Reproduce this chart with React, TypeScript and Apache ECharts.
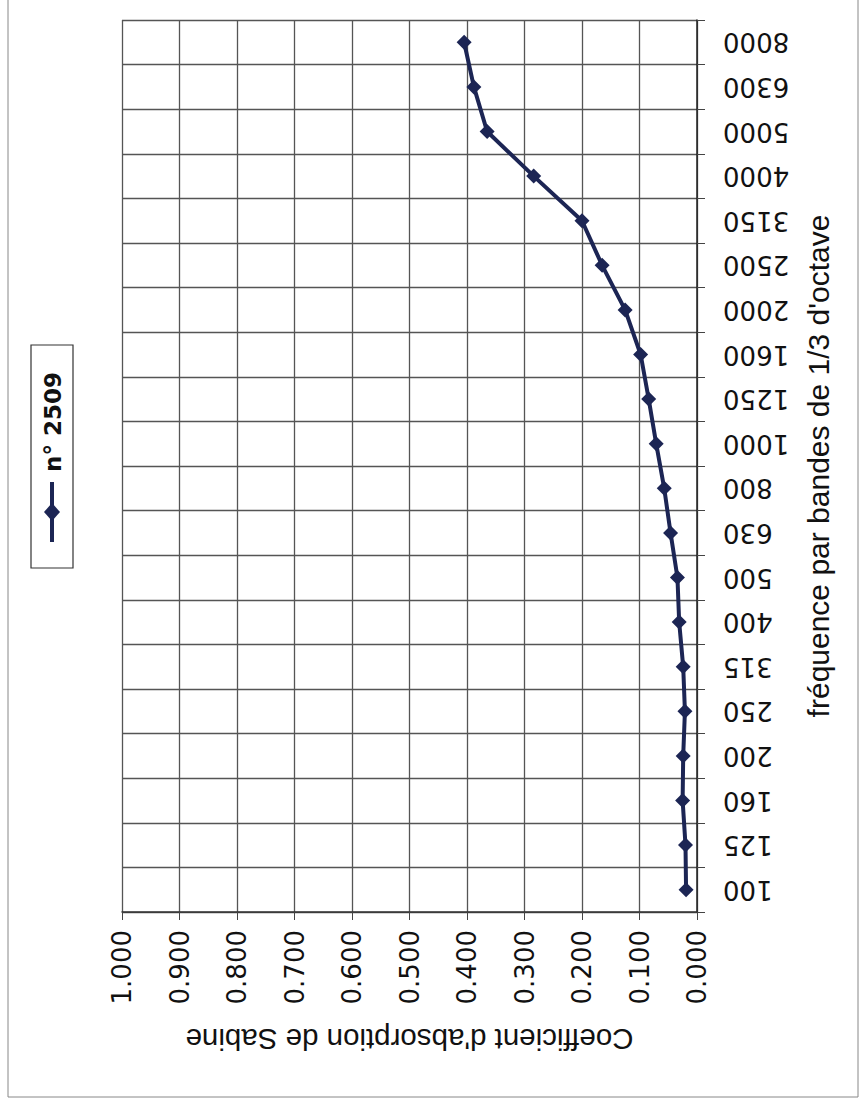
import React, { useEffect, useRef } from "react";
import * as echarts from "echarts";

const categories = ["100", "125", "160", "200", "250", "315", "400", "500", "630", "800", "1000", "1250", "1600", "2000", "2500", "3150", "4000", "5000", "6300", "8000"];
const absorption = [0.019, 0.020, 0.025, 0.024, 0.021, 0.024, 0.031, 0.034, 0.046, 0.057, 0.071, 0.084, 0.098, 0.125, 0.165, 0.200, 0.284, 0.365, 0.388, 0.405];
const seriesName = "n° 2509";
const valueAxisTitle = "Coefficient d'absorption de Sabine";
const categoryAxisTitle = "fréquence par bandes de 1/3 d'octave";

const NAVY = "#1c2554";

export default function App() {
  const ref = useRef<HTMLDivElement>(null);
  useEffect(() => {
    if (!ref.current) return;
    const chart = echarts.init(ref.current, null, { renderer: "svg" });
    chart.setOption({
      animation: false,
      backgroundColor: "#ffffff",
      grid: { left: 122, right: 169, top: 20, bottom: 195, containLabel: false },
      xAxis: {
        type: "value",
        inverse: true,
        min: 0,
        max: 1,
        interval: 0.1,
        position: "bottom",
        name: valueAxisTitle,
        nameLocation: "middle",
        nameRotate: 180,
        nameGap: 112,
        nameTextStyle: { fontFamily: "Liberation Sans", fontSize: 29.5, color: "#111" },
        axisLine: { show: true, lineStyle: { color: "#333", width: 1.5 } },
        axisTick: { show: true, length: 8, lineStyle: { color: "#444" } },
        axisLabel: {
          rotate: 90,
          margin: 18,
          fontFamily: "DejaVu Sans",
          fontSize: 26,
          color: "#111",
          formatter: (v: number) => v.toFixed(3),
        },
        splitLine: { show: true, lineStyle: { color: "#555", width: 1.3 } },
      },
      yAxis: {
        type: "category",
        data: categories,
        position: "right",
        boundaryGap: true,
        name: categoryAxisTitle,
        nameLocation: "middle",
        nameRotate: 90,
        nameGap: 106,
        nameTextStyle: { fontFamily: "Liberation Sans", fontSize: 30, color: "#111" },
        axisLine: { show: true, lineStyle: { color: "#222", width: 1.5 } },
        axisTick: { show: true, length: 8, lineStyle: { color: "#444" } },
        axisLabel: {
          rotate: 180,
          margin: 26,
          fontFamily: "DejaVu Sans",
          fontSize: 26,
          color: "#111",
        },
        splitLine: { show: true, lineStyle: { color: "#555", width: 1.3 } },
      },
      series: [
        {
          name: seriesName,
          type: "line",
          data: absorption,
          symbol: "diamond",
          symbolSize: 15,
          lineStyle: { color: NAVY, width: 4 },
          itemStyle: { color: NAVY },
        },
      ],
      graphic: [
        {
          type: "rect",
          shape: { x: 8, y: -4, width: 850, height: 1101 },
          style: { fill: "none", stroke: "#888", lineWidth: 1 },
          silent: true,
        },
        {
          type: "rect",
          shape: { x: 31, y: 345, width: 42, height: 223 },
          style: { fill: "none", stroke: "#333", lineWidth: 1.2 },
        },
        {
          type: "line",
          shape: { x1: 52, y1: 482, x2: 52, y2: 542 },
          style: { stroke: NAVY, lineWidth: 4 },
        },
        {
          type: "polygon",
          shape: { points: [[52, 503], [60, 512], [52, 521], [44, 512]] },
          style: { fill: NAVY },
        },
        {
          type: "text",
          x: 53,
          y: 422,
          rotation: Math.PI / 2,
          style: {
            text: seriesName,
            fontFamily: "DejaVu Sans",
            fontWeight: "bold",
            fontSize: 23,
            fill: "#111",
            align: "center",
            verticalAlign: "middle",
          },
        },
      ],
    });
    return () => chart.dispose();
  }, []);
  return <div ref={ref} style={{ position: "absolute", left: 0, top: 0, width: 866, height: 1107 }} />;
}
